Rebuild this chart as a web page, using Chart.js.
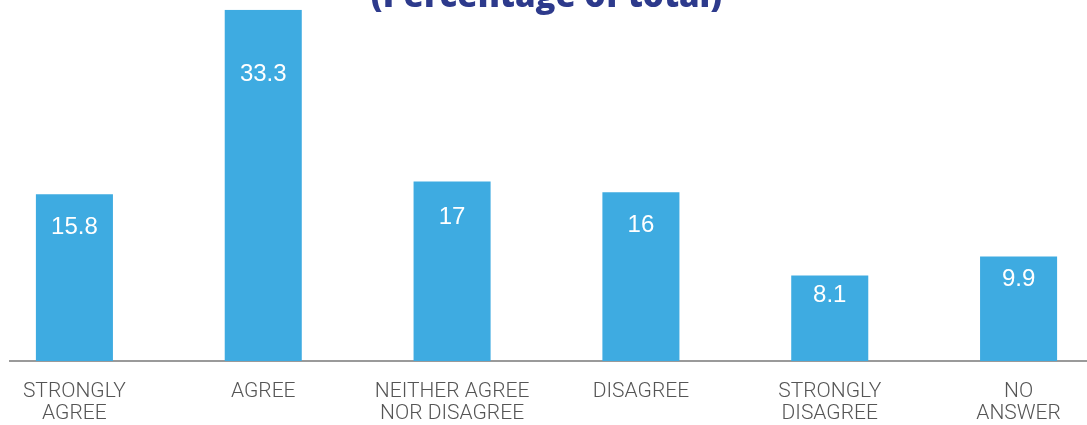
<!DOCTYPE html>
<html>
<head>
<meta charset="utf-8">
<script src="https://cdn.jsdelivr.net/npm/chart.js@4"></script>
<style>
  html, body { margin: 0; padding: 0; background: #fff; }
  body { width: 1087px; height: 425px; overflow: hidden; position: relative; }
  /* the axis line starts a little in from the left edge */
  .clip { position: absolute; left: 9px; top: 0; width: 1078px; height: 425px; overflow: hidden; }
  .box { position: absolute; left: -29px; top: -41px; width: 1133px; height: 486px; }
</style>
</head>
<body>
<div class="clip">
  <div class="box"><canvas id="answers"></canvas></div>
</div>
<script>
const categories = [
  ["STRONGLY", "AGREE"],
  "AGREE",
  ["NEITHER AGREE", "NOR DISAGREE"],
  "DISAGREE",
  ["STRONGLY", "DISAGREE"],
  ["NO", "ANSWER"],
];
const shares = [15.8, 33.3, 17, 16, 8.1, 9.9];
const titleText = "(Percentage of total)";

// values written inside each bar, a little below its top
const valueLabels = {
  id: "valueLabels",
  afterDatasetsDraw(chart) {
    const ctx = chart.ctx;
    const meta = chart.getDatasetMeta(0);
    ctx.save();
    ctx.fillStyle = "#ffffff";
    ctx.font = "24px 'Liberation Sans'";
    ctx.textAlign = "center";
    ctx.textBaseline = "middle";
    meta.data.forEach((bar, i) => {
      const h = bar.base - bar.y;
      ctx.fillText(String(shares[i]), bar.x, bar.y + 5 + h * 0.17);
    });
    ctx.restore();
  },
};

const ctx = document.getElementById("answers").getContext("2d");
new Chart(ctx, {
  type: "bar",
  data: {
    labels: categories,
    datasets: [{
      data: shares,
      backgroundColor: "#3eabe1",
      borderWidth: 0,
      barPercentage: 0.408,
      categoryPercentage: 1,
    }],
  },
  options: {
    responsive: true,
    maintainAspectRatio: false,
    animation: false,
    layout: { padding: 0 },
    plugins: {
      legend: { display: false },
      tooltip: { enabled: false },
      title: {
        display: true,
        text: titleText,
        color: "#2d3a8c",
        font: { family: "'Open Sans'", size: 33, weight: "800", lineHeight: 0.8 },
        padding: { top: 25.4, bottom: -1.1 },
      },
    },
    scales: {
      x: {
        grid: { display: false, drawTicks: false },
        border: { display: true, color: "#9a9a9a", width: 2 },
        ticks: {
          color: "#555555",
          font: { family: "Roboto", size: 21, weight: "300", lineHeight: 1.05 },
          padding: 20,
          maxRotation: 0,
          autoSkip: false,
        },
      },
      y: {
        display: false,
        min: 0,
        max: Math.max(...shares),
      },
    },
  },
  plugins: [valueLabels],
});
</script>
</body>
</html>
